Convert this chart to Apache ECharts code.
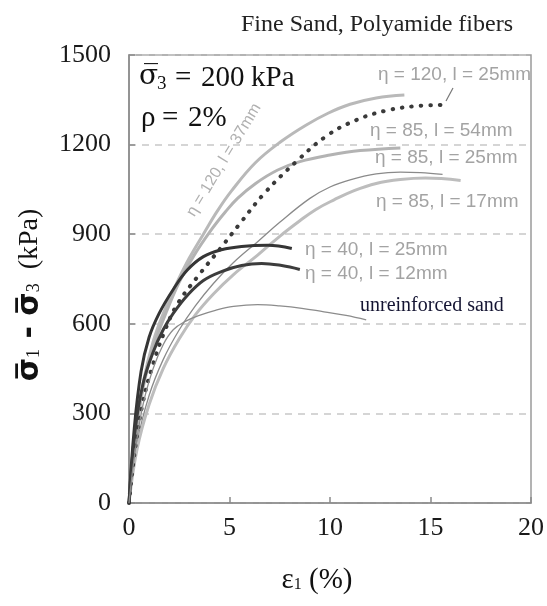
<!DOCTYPE html>
<html><head><meta charset="utf-8">
<script src="https://cdn.jsdelivr.net/npm/echarts@6/dist/echarts.min.js"></script>
<style>html,body{margin:0;padding:0;background:#fff}#c{width:547px;height:606px}</style>
</head><body><div id="c"></div>
<script>
// ---- data (strain %, deviator stress kPa) ----
const xTicks = [0, 5, 10, 15, 20];
const yTicks = [0, 300, 600, 900, 1200, 1500];

const eta120_l37 = [[0,0],[0.3,210],[0.7,400],[1.2,540],[1.8,650],[2.4,740],[3,820],[3.7,900],[4.4,978],[5.1,1045],[6.3,1140],[7.6,1212],[8.8,1265],[9.9,1305],[11,1335],[12.3,1356],[13.7,1366]];
const eta85_l54 = [[0,0],[0.3,205],[0.7,385],[1.2,520],[1.8,630],[2.5,740],[3.2,825],[4.1,915],[4.8,975],[5.4,1020],[6.3,1070],[7.4,1115],[8.5,1143],[10,1165],[11.5,1180],[13.5,1189]];
const eta85_l25 = [[0,0],[0.4,200],[1,360],[1.7,480],[2.5,580],[3.3,660],[4.2,735],[5.2,805],[6.4,875],[7.5,940],[9,1020],[10,1058],[11,1082],[12.3,1102],[13.5,1108],[14.5,1106],[15.6,1100]];
const eta85_l17 = [[0,0],[0.4,180],[1,330],[1.7,450],[2.5,550],[3.3,630],[4.2,700],[5.2,765],[6.4,830],[7.5,893],[8.5,945],[9.3,983],[10.2,1015],[11.2,1046],[12.3,1070],[13.5,1083],[14.75,1088],[16.5,1080]];
const eta120_l25 = [[0,0],[0.3,180],[0.7,340],[1.2,465],[1.8,580],[2.4,665],[3.4,757],[4.6,857],[5.45,930],[6.75,1038],[8.4,1148],[9.85,1230],[11.3,1282],[12.8,1314],[14.3,1329],[15.5,1333]];
const eta40_l25 = [[0,0],[0.25,240],[0.6,440],[1.0,555],[1.5,635],[2.2,715],[2.9,780],[3.7,825],[4.6,848],[5.6,859],[6.9,863],[8.1,852]];
const eta40_l12 = [[0,0],[0.3,240],[0.7,400],[1.2,505],[1.7,580],[2.2,635],[2.9,695],[3.7,745],[4.6,775],[5.6,795],[6.6,802],[7.6,795],[8.5,782]];
const unreinforced = [[0,0],[0.3,170],[0.7,330],[1.2,450],[1.7,530],[2.2,580],[2.8,608],[3.5,628],[4.3,645],[5.2,658],[6.4,664],[7.5,660],[8.6,652],[9.7,640],[10.8,628],[11.8,613]];

const seriesNames = ['η = 120, l = 37mm','η = 85, l = 54mm','η = 85, l = 25mm','η = 85, l = 17mm','η = 120, l = 25mm','η = 40, l = 25mm','η = 40, l = 12mm','unreinforced sand'];
const seriesData = [eta120_l37, eta85_l54, eta85_l25, eta85_l17, eta120_l25, eta40_l25, eta40_l12, unreinforced];
const titleText = 'Fine Sand, Polyamide fibers';

// ---- styles ----
const styles = [
  {color:'#b9b9b9', width:3},
  {color:'#b3b3b3', width:3},
  {color:'#8a8a8a', width:1.3},
  {color:'#bdbdbd', width:3},
  {color:'#3a3a3a', width:4, type:[0.5,9], cap:'round'},
  {color:'#353535', width:3},
  {color:'#3c3c3c', width:3},
  {color:'#8c8c8c', width:1.3}
];

const chart = echarts.init(document.getElementById('c'), null, {renderer:'canvas'});
const lblGray = '#a3a3a3';
function lbl(text, x, y){
  return {type:'text', x:x, y:y, style:{text:text, fill:lblGray, font:'19px "Liberation Sans"', textVerticalAlign:'middle'}};
}
function boxText(text, x, y, size){
  return {type:'text', x:x, y:y, style:{text:text, font:(size||29)+'px "Liberation Serif"', fill:'#111', textVerticalAlign:'middle'}};
}
const option = {
  animation:false,
  backgroundColor:'#fff',
  title:{text:titleText, left:372, top:8, textAlign:'center', textStyle:{fontFamily:'Liberation Serif', fontWeight:'normal', fontSize:24, color:'#222'}},
  grid:{left:129, right:10, top:55, bottom:103, show:true, borderColor:'#9a9a9a', borderWidth:1.5},
  xAxis:{type:'value', min:0, max:20, interval:5,
    axisLine:{show:true, lineStyle:{color:'#8a8a8a', width:1.5}},
    axisTick:{show:true, inside:true, length:6, lineStyle:{color:'#8a8a8a', width:1.5}},
    axisLabel:{fontFamily:'Liberation Serif', fontSize:26, color:'#1a1a1a', margin:12, formatter:v=>String(v)},
    splitLine:{show:false}},
  yAxis:{type:'value', min:0, max:1500, interval:300,
    axisLine:{show:true, lineStyle:{color:'#8a8a8a', width:1.5}},
    axisTick:{show:true, inside:true, length:6, lineStyle:{color:'#8a8a8a', width:1.5}},
    axisLabel:{fontFamily:'Liberation Serif', fontSize:26, color:'#1a1a1a', margin:18, formatter:v=>String(v)},
    splitLine:{show:true, lineStyle:{color:'#c8c8c8', type:[7,6], width:1.5}}},
  series: seriesData.map((d,i)=>({
    name:seriesNames[i], type:'line', data:d, smooth:0.4, showSymbol:false, symbol:'none',
    z: (i>=4?3:2),
    lineStyle:{color:styles[i].color, width:styles[i].width, type:styles[i].type||'solid', cap:styles[i].cap||'butt', join:'round'}
  })),
  graphic:[
    // box text
    {type:'text', x:139, y:77, style:{text:'σ\u0305', font:'28px "DejaVu Serif"', fill:'#111', textVerticalAlign:'middle'}},
    boxText('3', 157, 84, 19),
    boxText('=', 175, 78),
    boxText('200', 201, 78),
    boxText('kPa', 251, 78),
    boxText('ρ', 141, 118),
    boxText('=', 162, 118),
    boxText('2%', 188, 118),
    // curve labels
    lbl('η = 120, l = 25mm', 378, 75),
    {type:'line', shape:{x1:453, y1:88, x2:446, y2:101}, style:{stroke:'#777', lineWidth:1.2}},
    lbl('η = 85, l = 54mm', 370, 131),
    lbl('η = 85, l = 25mm', 375, 158),
    lbl('η = 85, l = 17mm', 376, 202),
    lbl('η = 40, l = 25mm', 305, 250),
    lbl('η = 40, l = 12mm', 305, 274),
    {type:'text', x:360, y:306, style:{text:'unreinforced sand', font:'20px "Liberation Serif"', fill:'#141432', textVerticalAlign:'middle'}},
    {type:'text', x:224, y:160, rotation:Math.atan2(122,74), originX:0, originY:0,
      style:{text:'η = 120, l = 37mm', font:'16px "Liberation Sans"', fill:'#b0b0b0', align:'center', verticalAlign:'middle'}},
    // axis names
    {type:'text', x:317, y:580, style:{rich:{e:{fontFamily:'Liberation Serif', fontSize:29, fill:'#111'}, s:{fontFamily:'Liberation Serif', fontSize:16, fill:'#111', padding:[10,0,0,0]}}, text:'{e|ε}{s|1}{e| (%)}', align:'center', verticalAlign:'middle'}},
    {type:'text', x:30, y:295, rotation:Math.PI/2,
      style:{rich:{g:{fontFamily:'DejaVu Sans', fontWeight:'bold', fontSize:30, fill:'#111'}, s:{fontFamily:'Liberation Serif', fontSize:18, fill:'#111', padding:[8,0,0,0]}, k:{fontFamily:'Liberation Serif', fontSize:28, fill:'#111'}},
        text:'{g|σ\u0305}{s|1}{g| - σ\u0305}{s|3}{k|  (kPa)}', align:'center', verticalAlign:'middle'}}
  ]
};
chart.setOption(option);
</script></body></html>
